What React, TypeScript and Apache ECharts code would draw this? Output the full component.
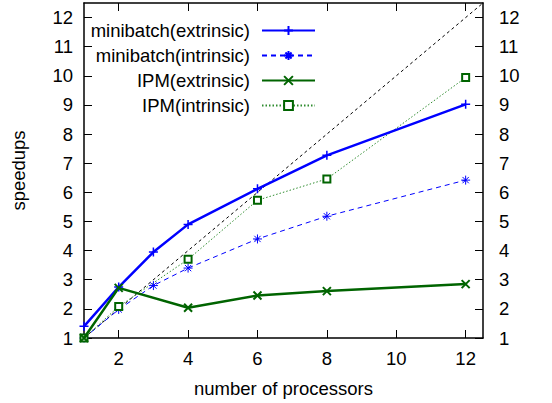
import React, { useEffect, useRef } from "react";
import * as echarts from "echarts";

const processors = [1, 2, 3, 4, 6, 8, 12];
const miniExtrinsic = [1.4, 2.75, 3.95, 4.9, 6.12, 7.27, 9.02];
const miniIntrinsic = [1.0, 1.98, 2.8, 3.4, 4.4, 5.18, 6.42];
const ipmProcessors = [1, 2, 4, 6, 8, 12];
const ipmExtrinsic = [1.0, 2.72, 2.04, 2.46, 2.61, 2.85];
const ipmIntrinsic = [1.0, 2.08, 3.7, 5.73, 6.46, 9.94];
const idealX = [1, 12.5];
const idealY = [1, 12.5];
const xTicks = [2, 4, 6, 8, 10, 12];
const yTicks = [1, 2, 3, 4, 5, 6, 7, 8, 9, 10, 11, 12];

const FONT = "Liberation Sans";
const BLUE = "#0000ff";
const DGREEN = "#006400";
const LGREEN = "#2e8b2e";

const PLUS = "path://M0,5L10,5M5,0L5,10";
const STAR = "path://M0,5L10,5M5,0L5,10M1.5,1.5L8.5,8.5M1.5,8.5L8.5,1.5";
const CROSS = "path://M0,0L10,10M0,10L10,0";

const pair = (xs: number[], ys: number[]) => xs.map((x, i) => [x, ys[i]]);

export default function App() {
  const ref = useRef<HTMLDivElement>(null);
  useEffect(() => {
    if (!ref.current) return;
    const chart = echarts.init(ref.current, undefined, { renderer: "svg" });
    const axisLine = { show: true, lineStyle: { color: "#000", width: 1.5 } };
    const labelStyle = { fontFamily: FONT, fontSize: 18.5, color: "#000" };
    chart.setOption({
      animation: false,
      backgroundColor: "#fff",
      grid: { left: 84, right: 69, top: 3, bottom: 63 },
      legend: {
        orient: "vertical",
        align: "right",
        right: 236,
        top: 21,
        padding: 0,
        itemGap: 6,
        itemWidth: 53,
        itemHeight: 11,
        data: ["minibatch(extrinsic)", "minibatch(intrinsic)", "IPM(extrinsic)", "IPM(intrinsic)"],
        textStyle: { ...labelStyle, padding: [0, 7, 0, 0] },
      },
      xAxis: [
        {
          type: "value",
          min: 1,
          max: 12.5,
          position: "bottom",
          axisLine,
          splitLine: { show: false },
          axisTick: { show: true, inside: true, length: 8, customValues: xTicks, lineStyle: { color: "#000" } },
          axisLabel: { ...labelStyle, margin: 11, customValues: xTicks },
          name: "number of processors",
          nameLocation: "middle",
          nameGap: 41,
          nameTextStyle: labelStyle,
        },
        {
          type: "value",
          min: 1,
          max: 12.5,
          position: "top",
          axisLine,
          splitLine: { show: false },
          axisTick: { show: true, inside: true, length: 8, customValues: xTicks, lineStyle: { color: "#000" } },
          axisLabel: { show: false },
        },
      ],
      yAxis: [
        {
          type: "value",
          min: 1,
          max: 12.5,
          position: "left",
          axisLine,
          splitLine: { show: false },
          axisTick: { show: true, inside: true, length: 8, customValues: yTicks, lineStyle: { color: "#000" } },
          axisLabel: { ...labelStyle, margin: 11, customValues: yTicks },
          name: "speedups",
          nameLocation: "middle",
          nameGap: 56,
          nameRotate: 90,
          nameTextStyle: labelStyle,
        },
        {
          type: "value",
          min: 1,
          max: 12.5,
          position: "right",
          axisLine,
          splitLine: { show: false },
          axisTick: { show: true, inside: true, length: 8, customValues: yTicks, lineStyle: { color: "#000" } },
          axisLabel: { ...labelStyle, margin: 16, customValues: yTicks },
        },
      ],
      series: [
        {
          name: "ideal",
          type: "line",
          data: pair(idealX, idealY),
          showSymbol: false,
          symbol: "none",
          lineStyle: { color: "#000", width: 1, type: [3, 3] },
          z: 1,
        },
        {
          name: "minibatch(extrinsic)",
          type: "line",
          data: pair(processors, miniExtrinsic),
          symbol: PLUS,
          symbolSize: 9,
          color: BLUE,
          itemStyle: { color: BLUE, borderColor: BLUE, borderWidth: 1.5 },
          lineStyle: { color: BLUE, width: 2.5 },
          z: 5,
        },
        {
          name: "minibatch(intrinsic)",
          type: "line",
          data: pair(processors, miniIntrinsic),
          symbol: STAR,
          symbolSize: 9,
          color: BLUE,
          itemStyle: { color: BLUE, borderColor: BLUE, borderWidth: 1 },
          lineStyle: { color: BLUE, width: 1, type: [5, 4] },
          z: 4,
        },
        {
          name: "IPM(extrinsic)",
          type: "line",
          data: pair(ipmProcessors, ipmExtrinsic),
          symbol: CROSS,
          symbolSize: 8,
          color: DGREEN,
          itemStyle: { color: DGREEN, borderColor: DGREEN, borderWidth: 2 },
          lineStyle: { color: DGREEN, width: 2.5 },
          z: 5,
        },
        {
          name: "IPM(intrinsic)",
          type: "line",
          data: pair(ipmProcessors, ipmIntrinsic),
          symbol: "emptyRect",
          symbolSize: 7,
          color: DGREEN,
          itemStyle: { color: DGREEN, borderColor: DGREEN, borderWidth: 1.2 },
          lineStyle: { color: LGREEN, width: 1, type: [1.5, 2] },
          z: 4,
        },
      ],
    });
    return () => chart.dispose();
  }, []);
  return <div ref={ref} style={{ width: 552, height: 403, position: "absolute", left: 0, top: 0 }} />;
}
